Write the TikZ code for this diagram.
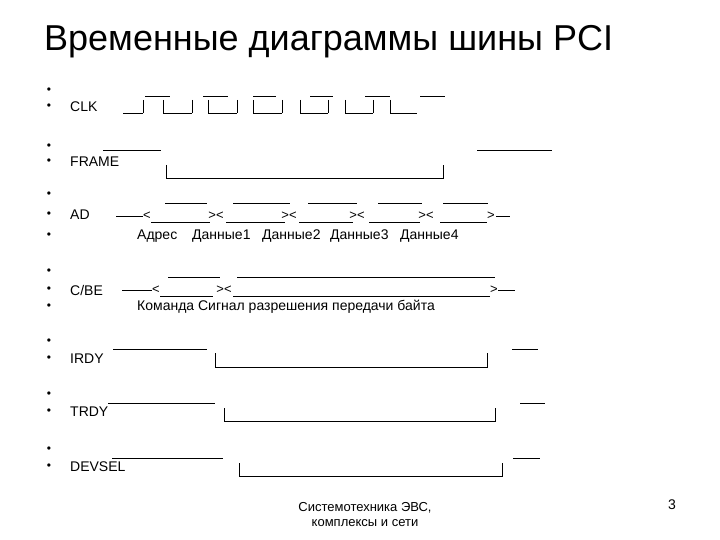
\documentclass[tikz,border=0pt]{standalone}
\usepackage{fontspec}
\setmainfont{Liberation Sans}
\begin{document}
\begin{tikzpicture}[x=1pt,y=-1pt,
  lbl/.style={anchor=west,inner sep=0pt,font=\fontsize{14}{16}\selectfont},
  sym/.style={inner sep=0pt,font=\fontsize{13}{15}\selectfont},
  bul/.style={inner sep=0pt,font=\fontsize{12}{14}\selectfont},
  wave/.style={line width=0.8pt,black}]
\useasboundingbox[fill=white] (0,0) rectangle (720,540);
\node[anchor=west,inner sep=0pt,font=\fontsize{36}{40}\selectfont] (title) at (44,42) {Временные диаграммы шины PCI};
\foreach \y [count=\i] in {91,107,147,162,195,215,236,272,290,307,342,359,395,412,450,467}
  \node[bul] (b\i) at (49,\y) {•};
% labels
\node[lbl] (clk) at (70,107) {CLK};
\node[lbl] (frame) at (70,162) {FRAME};
\node[lbl] (ad) at (70,215) {AD};
\node[lbl] (cbe) at (70,290) {C/BE};
\node[lbl] (irdy) at (70,359) {IRDY};
\node[lbl] (trdy) at (70,412) {TRDY};
\node[lbl] (devsel) at (70,467) {DEVSEL};
% CLK
\foreach \a/\b in {123/143,163/192,208/237,253/282,300/328,345/373,390/417}
  \draw[wave] (\a,113) -- (\b,113);
\foreach \a/\b in {145/170,203/228,253/276,310/333,365/390,420/445}
  \draw[wave] (\a,96) -- (\b,96);
\foreach \a in {143,163,192,208,237,253,282,300,328,345,373,390}
  \draw[wave] (\a,100) -- (\a,113);
% FRAME
\draw[wave] (103,150) -- (161,150);
\draw[wave] (166,165) -- (166,178) -- (443,178) -- (443,165);
\draw[wave] (477,150) -- (552,150);
% AD
\draw[wave] (116,216) -- (143,216);
\node[sym] (ad0) at (147,216) {<};
\foreach \a/\b in {165/207,233/290,308/357,378/422,443/488}
  \draw[wave] (\a,203) -- (\b,203);
\foreach \a/\b in {151/210,226/285,299/353,369/420,440/487}
  \draw[wave] (\a,222) -- (\b,222);
\foreach \x [count=\i] in {216,289,357,426}
  \node[sym] (ad\i) at (\x,216) {><};
\node[sym] (ad5) at (491,216) {>};
\draw[wave] (496,216) -- (510,216);
\foreach \x/\t in {137/Адрес,192/Данные1,262/Данные2,330/Данные3,400/Данные4}
  \node[lbl] at (\x,236) {\t};
% C/BE
\draw[wave] (122,290) -- (152,290);
\node[sym] (cb0) at (156,290) {<};
\draw[wave] (168,277) -- (220,277);
\draw[wave] (160,296) -- (213,296);
\node[sym] (cb1) at (224,290) {><};
\draw[wave] (237,277) -- (495,277);
\draw[wave] (233,296) -- (490,296);
\node[sym] (cb2) at (494,290) {>};
\draw[wave] (498,290) -- (515,290);
\node[lbl] (cbt) at (137,307) {Команда Сигнал разрешения передачи байта};
% IRDY
\draw[wave] (113,349) -- (207,349);
\draw[wave] (215,353) -- (215,367) -- (487,367) -- (487,353);
\draw[wave] (512,349) -- (538,349);
% TRDY
\draw[wave] (108,403) -- (215,403);
\draw[wave] (224,408) -- (224,421) -- (495,421) -- (495,408);
\draw[wave] (520,403) -- (545,403);
% DEVSEL
\draw[wave] (112,458) -- (223,458);
\draw[wave] (239,463) -- (239,476) -- (502,476) -- (502,463);
\draw[wave] (513,458) -- (540,458);
% footer
\node[inner sep=0pt,align=center,font=\fontsize{13}{15}\selectfont] (foot) at (365,515) {Системотехника ЭВС,\\комплексы и сети};
\node[inner sep=0pt,font=\fontsize{14}{16}\selectfont] (page) at (672,505) {3};
\end{tikzpicture}
\end{document}
